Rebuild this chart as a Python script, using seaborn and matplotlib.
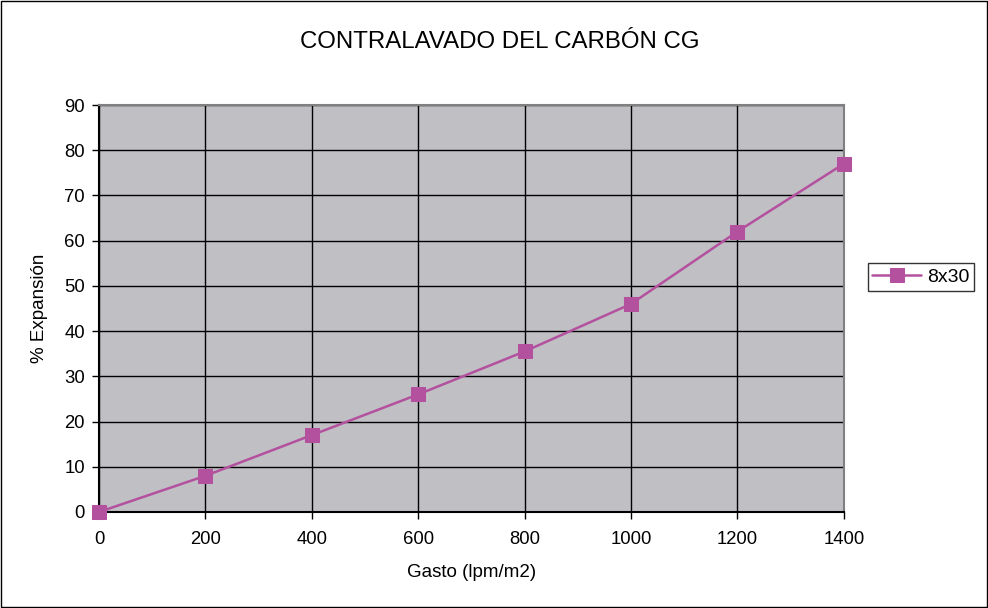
import seaborn as sns
import matplotlib.pyplot as plt
import matplotlib.patches as patches
import pandas as pd

gasto = [0, 200, 400, 600, 800, 1000, 1200, 1400]
expansion = [0, 8, 17, 26, 35.5, 46, 62, 77]
serie = "8x30"

sns.set_style("white")
plt.rcParams['font.family'] = ['Liberation Sans', 'DejaVu Sans']
plt.rcParams['text.color'] = 'black'
plt.rcParams['axes.labelcolor'] = 'black'

df = pd.DataFrame({"Gasto": gasto, "Expansion": expansion, "serie": serie})

fig = plt.figure(figsize=(9.88, 6.08), dpi=100)
ax = fig.add_axes([0.1002, 0.1579, 0.7538, 0.6694])
ax.set_facecolor("#C0BFC4")

color = "#B4519F"
sns.lineplot(data=df, x="Gasto", y="Expansion", ax=ax, color=color, lw=1.8,
             marker="s", markersize=10, markeredgecolor=color, label=serie,
             clip_on=False, zorder=5)

ax.set_xlim(0, 1400)
ax.set_ylim(0, 90)
ax.set_xticks(range(0, 1401, 200))
ax.set_yticks(range(0, 91, 10))
ax.grid(True, color="black", lw=1)
ax.set_axisbelow(True)
for s in ax.spines.values():
    s.set_color("#808080")
    s.set_linewidth(1.5)
ax.spines["left"].set_color("black")
ax.spines["bottom"].set_color("black")
ax.tick_params(axis="both", direction="out", length=5, width=1, colors="black",
               labelsize=13.3, left=True, bottom=True)
ax.tick_params(axis="x", pad=9)
ax.tick_params(axis="y", pad=5)
ax.set_xlabel("Gasto (lpm/m2)", fontsize=13.5, labelpad=11)
ax.set_ylabel("% Expansión", fontsize=13.5, labelpad=12)

fig.text(0.5056, 0.931, "CONTRALAVADO DEL CARBÓN CG", ha="center", va="center", fontsize=17.3)

leg = ax.legend(loc="center left", bbox_to_anchor=(1.032, 0.577), frameon=True,
                fancybox=False, edgecolor="black", fontsize=14, handlelength=2.5,
                borderpad=0.25, handletextpad=0.3, borderaxespad=0)
leg.get_frame().set_linewidth(1)

fig.add_artist(patches.Rectangle((0.001, 0.001), 0.998, 0.997, transform=fig.transFigure,
                                 fill=False, edgecolor="black", lw=1))

fig.savefig("out.png", dpi=100)
